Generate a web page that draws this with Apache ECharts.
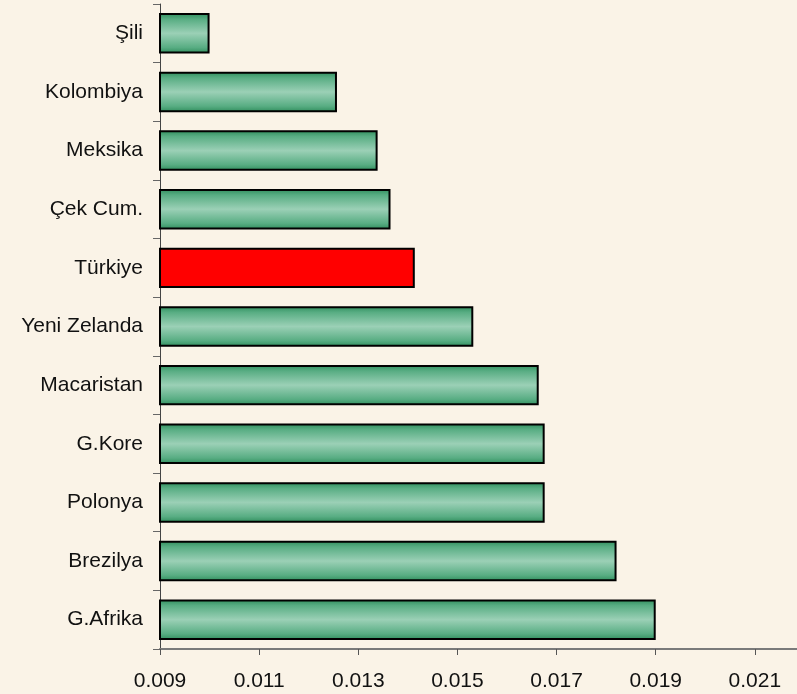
<!DOCTYPE html>
<html>
<head>
<meta charset="utf-8">
<title>Ülkeler</title>
<script src="https://cdn.jsdelivr.net/npm/echarts@6/dist/echarts.min.js"></script>
<style>
  html, body { margin: 0; padding: 0; background: #faf3e7; }
  .echarts_1 { width: 797px; height: 694px; }
</style>
</head>
<body>
<div class="echarts_1"></div>
<script>
// categories, top to bottom as in the picture
var countries = ['Şili', 'Kolombiya', 'Meksika', 'Çek Cum.', 'Türkiye', 'Yeni Zelanda',
                 'Macaristan', 'G.Kore', 'Polonya', 'Brezilya', 'G.Afrika'];
// values
var values = [0.0100, 0.01257, 0.01339, 0.01365, 0.01414, 0.01532,
              0.01664, 0.01676, 0.01676, 0.01821, 0.0190];
// the country that gets the red bar
var highlight = 'Türkiye';
// x axis range and step (ticks 0.009 ... 0.021, the plot is cut off at the right edge)
var axisMin = 0.009;
var axisMax = 0.02185;
var axisStep = 0.002;

// green bar fill, dark at the edges and light in the middle
var greenFill = new echarts.graphic.LinearGradient(0, 0, 0, 1, [
  { offset: 0, color: '#2f8d5c' },
  { offset: 0.15, color: '#58ad83' },
  { offset: 0.5, color: '#9bd0b6' },
  { offset: 0.85, color: '#58ad83' },
  { offset: 1, color: '#2f8d5c' }
]);

// build the bar items, red for the highlighted country
var barData = values.map(function (v, i) {
  return {
    value: v,
    itemStyle: { color: countries[i] === highlight ? '#ff0000' : greenFill }
  };
});

var echarts_1 = echarts.init(document.querySelector('.echarts_1'));

var option1 = {
  backgroundColor: '#faf3e7',
  animation: false,
  textStyle: { fontFamily: 'Liberation Sans, Arial, sans-serif' },
  grid: {
    left: 160,
    right: 0,
    top: 4,
    bottom: 45
  },
  // value axis at the bottom
  xAxis: {
    type: 'value',
    min: axisMin,
    max: axisMax,
    interval: axisStep,
    splitLine: { show: false },
    axisLine: { show: true, lineStyle: { color: '#7a7a7a', width: 2 } },
    axisTick: { show: true, length: 6, lineStyle: { color: '#555' } },
    axisLabel: {
      color: '#111',
      fontSize: 21,
      margin: 22,
      showMaxLabel: false,
      formatter: function (v) { return v.toFixed(3); }
    }
  },
  // country names on the left
  yAxis: {
    type: 'category',
    data: countries,
    inverse: true,
    axisLine: { show: true, lineStyle: { color: '#444', width: 1 } },
    axisTick: { show: true, length: 7, lineStyle: { color: '#666' } },
    axisLabel: { color: '#111', fontSize: 21, margin: 17 }
  },
  series: [{
    type: 'bar',
    data: barData,
    barWidth: '69%',
    itemStyle: {
      borderColor: '#000',
      borderWidth: 2
    }
  }]
};

echarts_1.setOption(option1);
</script>
</body>
</html>
